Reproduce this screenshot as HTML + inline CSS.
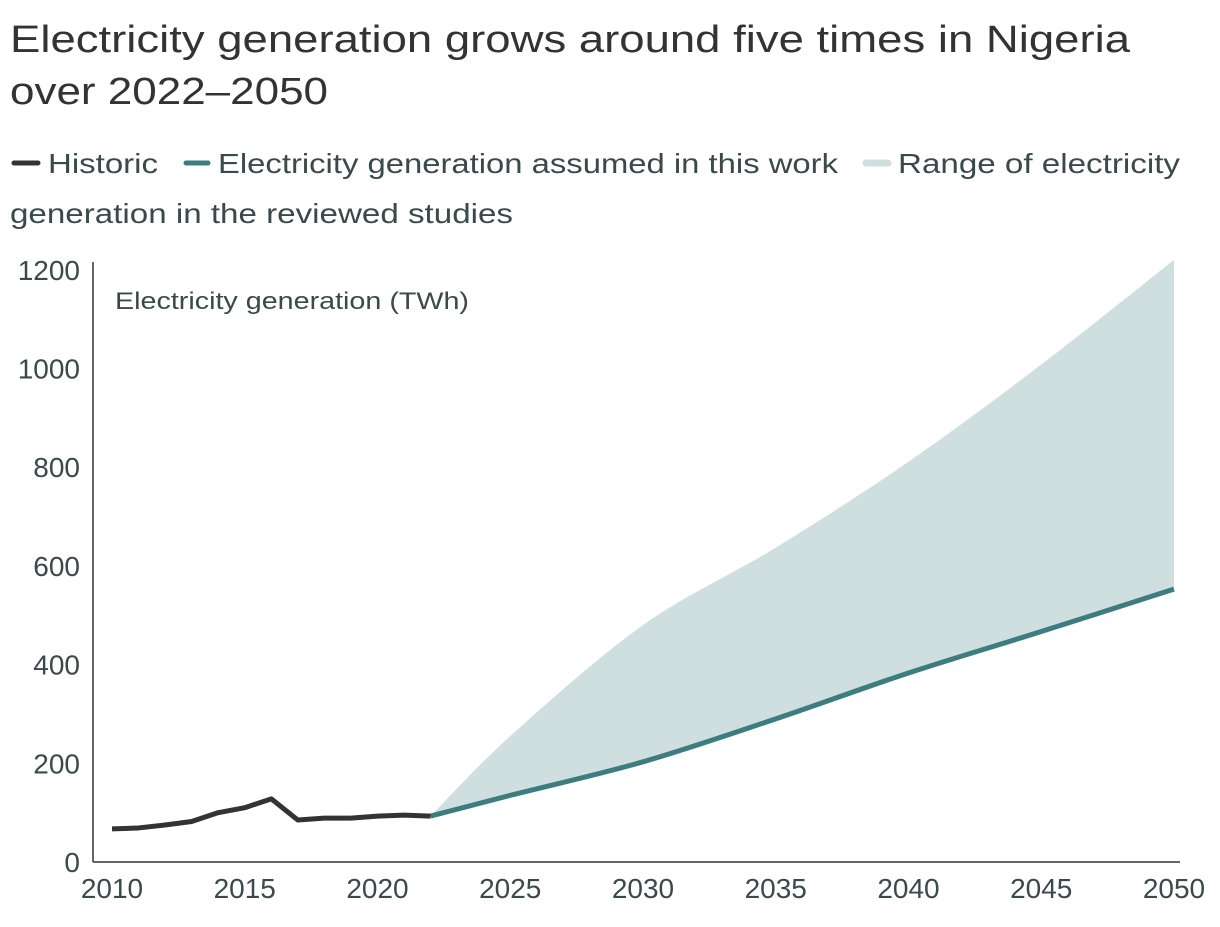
<!DOCTYPE html>
<html><head><meta charset="utf-8"><style>
body{margin:0;background:#fff;font-family:"Liberation Sans",sans-serif;color:#333;}
</style></head><body>
<svg width="1220" height="922" xmlns="http://www.w3.org/2000/svg" font-family="Liberation Sans, sans-serif">
<text x="10" y="52" font-size="38" fill="#333" textLength="1120" lengthAdjust="spacingAndGlyphs">Electricity generation grows around five times in Nigeria</text>
<text x="10" y="104" font-size="38" fill="#333" textLength="318" lengthAdjust="spacingAndGlyphs">over 2022–2050</text>
<g font-size="28" fill="#3a4a4a">
<g><line x1="14" y1="163" x2="38" y2="163" stroke="#333" stroke-width="5" stroke-linecap="round"/><text x="48" y="173" textLength="110" lengthAdjust="spacingAndGlyphs">Historic</text></g>
<g><line x1="186" y1="163" x2="208" y2="163" stroke="#3d7d7f" stroke-width="5" stroke-linecap="round"/><text x="218" y="173" textLength="620" lengthAdjust="spacingAndGlyphs">Electricity generation assumed in this work</text></g>
<g><line x1="866" y1="163" x2="888" y2="163" stroke="#cfdfdf" stroke-width="7" stroke-linecap="round"/><text x="898" y="173" textLength="282" lengthAdjust="spacingAndGlyphs">Range of electricity</text><text x="10" y="223" textLength="503" lengthAdjust="spacingAndGlyphs">generation in the reviewed studies</text></g>
</g>
<text x="115" y="309" font-size="24" fill="#3a4a4a" textLength="354" lengthAdjust="spacingAndGlyphs">Electricity generation (TWh)</text>
<g id="plot"></g>
</svg>
<script>
const histYears=[2010,2011,2012,2013,2014,2015,2016,2017,2018,2019,2020,2021,2022];
const histVals=[67,69,75,82,100,110,128,85,89,89,93,95,93];
const projYears=[2022,2025,2030,2035,2040,2045,2050];
const assumedVals=[93,135,203,290,383,467,553];
const upperVals=[93,255,480,637,811,1008,1220];
const yTicks=[0,200,400,600,800,1000,1200];
const xTicks=[2010,2015,2020,2025,2030,2035,2040,2045,2050];
const NS="http://www.w3.org/2000/svg";
const X=y=>112+(y-2010)*26.55;
const Y=v=>862-v*0.4935;
const g=document.getElementById('plot');
function mk(t,a){const e=document.createElementNS(NS,t);for(const k in a)e.setAttribute(k,a[k]);g.appendChild(e);return e;}
function smooth(pts){let d=`M${pts[0][0]},${pts[0][1]}`;for(let i=0;i<pts.length-1;i++){const p0=pts[Math.max(i-1,0)],p1=pts[i],p2=pts[i+1],p3=pts[Math.min(i+2,pts.length-1)];
d+=` C${p1[0]+(p2[0]-p0[0])/6},${p1[1]+(p2[1]-p0[1])/6} ${p2[0]-(p3[0]-p1[0])/6},${p2[1]-(p3[1]-p1[1])/6} ${p2[0]},${p2[1]}`;}return d;}
const up=projYears.map((y,i)=>[X(y),Y(upperVals[i])]);
const lo=projYears.map((y,i)=>[X(y),Y(assumedVals[i])]);
const band=mk('path',{d:smooth(up)+' '+smooth(lo.slice().reverse()).replace('M','L')+'Z',fill:'#cfdfdf'});


const al=mk('path',{d:smooth(lo),fill:'none',stroke:'#3d7d7f','stroke-width':5});


const hl=mk('polyline',{points:histYears.map((y,i)=>X(y)+','+Y(histVals[i])).join(' '),fill:'none',stroke:'#333','stroke-width':5,'stroke-linejoin':'round'});


const ya=mk('line',{x1:93,y1:262,x2:93,y2:862,stroke:'#333','stroke-width':1.5});


const xa=mk('line',{x1:93,y1:862,x2:1180,y2:862,stroke:'#333','stroke-width':1.5});


yTicks.forEach(v=>{const t=mk('text',{x:80,y:Y(v)+10,'text-anchor':'end','font-size':28,fill:'#3a4a4a'});t.textContent=v;

});
xTicks.forEach(v=>{const t=mk('text',{x:X(v),y:898,'text-anchor':'middle','font-size':28,fill:'#3a4a4a'});t.textContent=v;

});
</script>
</body></html>
